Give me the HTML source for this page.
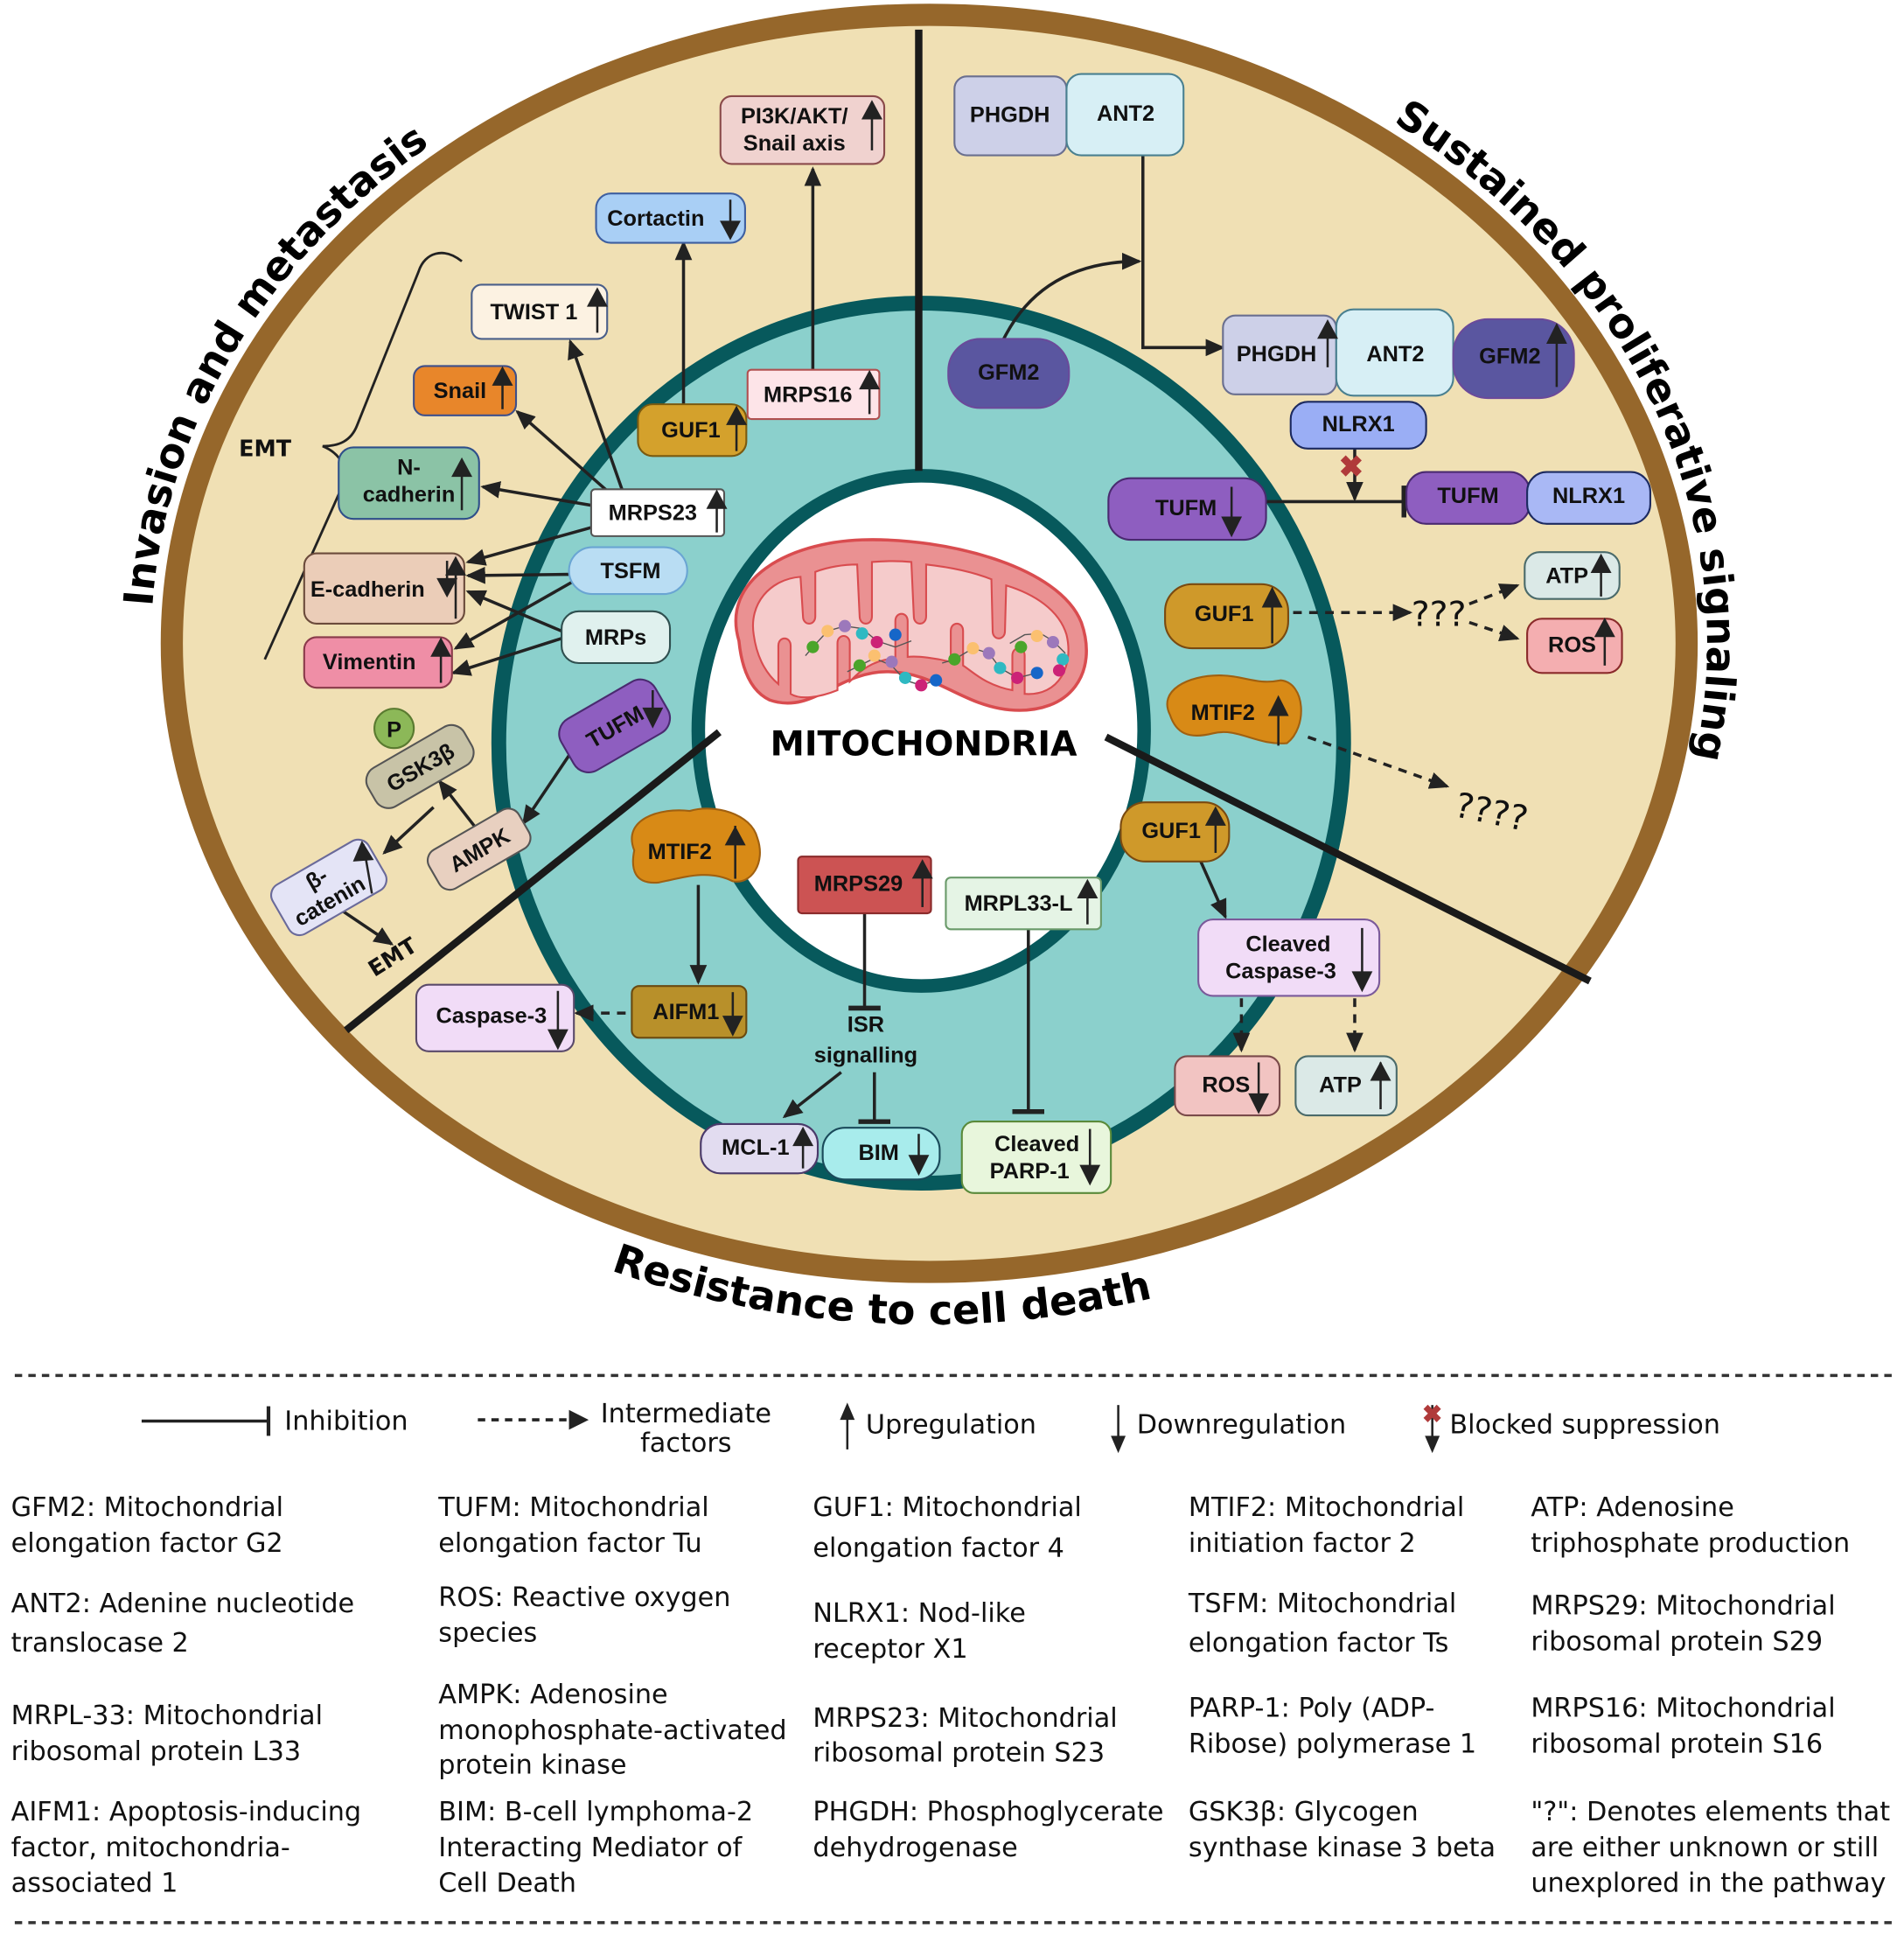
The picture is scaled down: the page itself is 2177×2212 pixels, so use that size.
<!DOCTYPE html>
<html><head><meta charset="utf-8"><style>
html,body{margin:0;padding:0;background:#fff}
svg{display:block}
text{font-family:"Liberation Sans",Arial,sans-serif}
.n{font-weight:bold;font-size:18px;fill:#111}
.lg{font-family:"DejaVu Sans","Liberation Sans",sans-serif;font-size:21.5px;fill:#111}
.tt{font-family:"DejaVu Sans","Liberation Sans",sans-serif;font-weight:bold;font-size:33px;fill:#000}
</style></head><body>
<svg width="2177" height="2212" viewBox="0 0 1546 1570" preserveAspectRatio="none" xmlns="http://www.w3.org/2000/svg">
<defs>
<marker id="ah" markerUnits="userSpaceOnUse" markerWidth="16" markerHeight="14" refX="14" refY="7" orient="auto"><path d="M0,0 L16,7 L0,14 z" fill="#222"/></marker>
<marker id="bar" markerUnits="userSpaceOnUse" markerWidth="4" markerHeight="26" refX="2" refY="13" orient="auto"><rect x="0" y="0" width="4" height="26" fill="#222"/></marker>
<path id="pl" d="M 207,785 A 632 527 0 0 1 754,-5" fill="none"/>
<path id="pr" d="M 864,3 A 632 527 0 0 1 1238,861" fill="none"/>
<path id="pb" d="M 182,798 A 660 552 0 0 0 1326,798" fill="none"/>
</defs>

<ellipse cx="754.5" cy="522" rx="615" ry="510" fill="#f0e0b4" stroke="#96672b" stroke-width="18"/>
<text class="tt"><textPath href="#pl" startOffset="45%" text-anchor="middle">Invasion and metastasis</textPath></text>
<text class="tt"><textPath href="#pr" startOffset="50%" text-anchor="middle">Sustained proliferative signaling</textPath></text>
<text class="tt"><textPath href="#pb" startOffset="47%" text-anchor="middle">Resistance to cell death</textPath></text>

<ellipse cx="748" cy="603" rx="343" ry="357" fill="#8bd0cc" stroke="#07595c" stroke-width="12"/>
<ellipse cx="748" cy="593" rx="181" ry="207" fill="#fff" stroke="#07595c" stroke-width="11"/>

<line x1="746" y1="24" x2="746" y2="382" stroke="#1a1a1a" stroke-width="6"/>
<line x1="281" y1="836" x2="584" y2="594" stroke="#1a1a1a" stroke-width="6"/>
<line x1="898" y1="598" x2="1291" y2="796" stroke="#1a1a1a" stroke-width="6"/>

<path d="M 600,520 C 585,470 640,440 700,438 C 770,436 860,460 878,505 C 892,545 870,580 820,576 C 780,572 760,545 720,545 C 680,545 660,580 625,568 C 608,560 602,540 600,520 Z" fill="#ea9192" stroke="#d94c4f" stroke-width="2.5"/>
<path d="M 612,515 C 608,490 625,470 650,468 L 652,500 C 652,508 662,508 662,500 L 662,464 C 672,460 685,458 696,458 L 698,500 C 698,508 708,508 708,500 L 708,456 C 720,455 730,455 740,456 L 742,500 C 742,508 752,508 752,500 L 752,458 C 770,460 790,464 805,470 L 806,512 C 806,520 816,520 816,512 L 817,475 C 840,482 860,495 866,515 C 872,540 860,565 832,563 L 832,532 C 832,524 822,524 822,532 L 822,560 C 800,556 790,545 782,540 L 782,512 C 782,504 772,504 772,512 L 772,537 C 760,534 745,532 737,533 L 737,504 C 737,496 727,496 727,504 L 727,534 C 705,536 695,548 690,553 L 690,522 C 690,514 680,514 680,522 L 680,560 C 665,566 650,568 642,563 L 642,524 C 642,516 632,516 632,524 L 632,555 C 620,545 614,530 612,515 Z" fill="#f5cbcb" stroke="#d94c4f" stroke-width="1.5"/>
<g stroke="#555" stroke-width="1" fill="none">
<polyline points="654,532 660,525 672,512 686,508 700,510 712,520 727,525 740,520"/>
<polyline points="688,545 698,540 710,534 724,540 735,552 748,556 760,552"/>
<polyline points="765,538 775,535 790,526 803,530 812,542 826,550 842,546"/>
<polyline points="820,522 832,515 845,514 855,520 865,530"/>
</g>
<g>
<circle cx="660" cy="525" r="5" fill="#4aa52a"/><circle cx="672" cy="512" r="5" fill="#fbc070"/><circle cx="686" cy="508" r="5" fill="#9c78bb"/><circle cx="700" cy="514" r="5" fill="#2fb9c2"/><circle cx="712" cy="521" r="5" fill="#cc2277"/><circle cx="727" cy="515" r="5" fill="#1666c8"/>
<circle cx="698" cy="540" r="5" fill="#4aa52a"/><circle cx="710" cy="532" r="5" fill="#fbc070"/><circle cx="724" cy="537" r="5" fill="#9c78bb"/><circle cx="735" cy="550" r="5" fill="#2fb9c2"/><circle cx="748" cy="556" r="5" fill="#cc2277"/><circle cx="760" cy="552" r="5" fill="#1666c8"/>
<circle cx="775" cy="535" r="5" fill="#4aa52a"/><circle cx="790" cy="526" r="5" fill="#fbc070"/><circle cx="803" cy="530" r="5" fill="#9c78bb"/><circle cx="812" cy="542" r="5" fill="#2fb9c2"/><circle cx="826" cy="550" r="5" fill="#cc2277"/><circle cx="842" cy="546" r="5" fill="#1666c8"/>
<circle cx="829" cy="525" r="5" fill="#4aa52a"/><circle cx="842" cy="516" r="5" fill="#fbc070"/><circle cx="855" cy="521" r="5" fill="#9c78bb"/><circle cx="863" cy="535" r="5" fill="#2fb9c2"/><circle cx="860" cy="544" r="5" fill="#cc2277"/>
</g>
<text x="750" y="613" font-weight="bold" font-size="28" text-anchor="middle" fill="#000" style="font-family:'DejaVu Sans',sans-serif">MITOCHONDRIA</text>

<g stroke="#222" stroke-width="2.5" fill="none">
<line x1="555" y1="328" x2="555" y2="197" marker-end="url(#ah)"/>
<line x1="660" y1="300" x2="660" y2="137" marker-end="url(#ah)"/>
<line x1="505" y1="397" x2="463" y2="277" marker-end="url(#ah)"/>
<line x1="495" y1="400" x2="420" y2="334" marker-end="url(#ah)"/>
<line x1="480" y1="410" x2="392" y2="395" marker-end="url(#ah)"/>
<line x1="480" y1="428" x2="380" y2="456" marker-end="url(#ah)"/>
<line x1="462" y1="466" x2="380" y2="467" marker-end="url(#ah)"/>
<line x1="465" y1="472" x2="370" y2="526" marker-end="url(#ah)"/>
<line x1="456" y1="512" x2="380" y2="480" marker-end="url(#ah)"/>
<line x1="456" y1="518" x2="368" y2="546" marker-end="url(#ah)"/>
<path d="M 815,275 C 835,235 870,212 925,212" marker-end="url(#ah)"/>
<polyline points="928,126 928,282 993,282" marker-end="url(#ah)"/>
<line x1="1100" y1="364" x2="1100" y2="405" marker-end="url(#ah)"/>
<line x1="1028" y1="407" x2="1140" y2="407" marker-end="url(#bar)"/>
<line x1="975" y1="699" x2="995" y2="744" marker-end="url(#ah)"/>
<line x1="835" y1="754" x2="835" y2="902" marker-end="url(#bar)"/>
<line x1="702" y1="741" x2="702" y2="818" marker-end="url(#bar)"/>
<line x1="683" y1="870" x2="637" y2="906" marker-end="url(#ah)"/>
<line x1="710" y1="870" x2="710" y2="910" marker-end="url(#bar)"/>
<line x1="567" y1="718" x2="567" y2="797" marker-end="url(#ah)"/>
<line x1="462" y1="613" x2="425" y2="668" marker-end="url(#ah)"/>
<line x1="385" y1="670" x2="357" y2="634" marker-end="url(#ah)"/>
<line x1="352" y1="655" x2="312" y2="692" marker-end="url(#ah)"/>
<line x1="272" y1="735" x2="318" y2="766" marker-end="url(#ah)"/>
<path d="M 375,212 C 360,200 345,205 340,220 L 290,345 C 285,358 275,362 262,362 C 272,366 282,375 280,390 L 215,535" stroke-width="2"/>
</g>
<g stroke="#222" stroke-width="2.5" fill="none" stroke-dasharray="7,6">
<line x1="1050" y1="497" x2="1145" y2="497" marker-end="url(#ah)"/>
<line x1="1193" y1="490" x2="1232" y2="475" marker-end="url(#ah)"/>
<line x1="1193" y1="505" x2="1232" y2="518" marker-end="url(#ah)"/>
<line x1="1062" y1="598" x2="1175" y2="638" marker-end="url(#ah)"/>
<line x1="1008" y1="810" x2="1008" y2="852" marker-end="url(#ah)"/>
<line x1="1100" y1="810" x2="1100" y2="852" marker-end="url(#ah)"/>
<line x1="508" y1="822" x2="468" y2="822" marker-end="url(#ah)"/>
</g>
<text x="1097" y="387" font-size="24" fill="#b03a3a" font-weight="bold" text-anchor="middle">✖</text>
<text x="1146" y="508" font-size="28" fill="#111" style="font-family:'DejaVu Sans',sans-serif">???</text>
<text x="1180" y="662" font-size="28" fill="#111" transform="rotate(12 1180 662)" style="font-family:'DejaVu Sans',sans-serif">????</text>
<text x="194" y="370" class="n" font-size="17" style="font-family:'DejaVu Sans',sans-serif">EMT</text>
<text x="304" y="793" class="n" font-size="17" transform="rotate(-32 304 793)" style="font-family:'DejaVu Sans',sans-serif">EMT</text>
<text x="703" y="837" class="n" text-anchor="middle">ISR</text>
<text x="703" y="862" class="n" text-anchor="middle">signalling</text>

<g stroke-width="1.5">
<rect x="585" y="78" width="133" height="55" rx="9" fill="#f0d2cf" stroke="#8a4a4a"/>
<rect x="484" y="157" width="121" height="40" rx="12" fill="#a9cff5" stroke="#3e5fa0"/>
<rect x="383" y="231" width="110" height="44" rx="8" fill="#fcf2e2" stroke="#4a5f8a"/>
<rect x="336" y="297" width="83" height="40" rx="9" fill="#e8862a" stroke="#3e4f8a"/>
<rect x="275" y="363" width="114" height="58" rx="12" fill="#8bc3a6" stroke="#2f4f8a"/>
<rect x="247" y="449" width="130" height="57" rx="10" fill="#ebcdb8" stroke="#6b4b3b"/>
<rect x="247" y="517" width="120" height="41" rx="10" fill="#ef8ea6" stroke="#8a3a4a"/>
<rect x="480" y="397" width="108" height="38" rx="3" fill="#fff" stroke="#555"/>
<rect x="462" y="444" width="96" height="38" rx="19" fill="#b9ddf3" stroke="#6aa5d3"/>
<rect x="456" y="496" width="88" height="42" rx="14" fill="#e0f1ee" stroke="#2f4f4f"/>
<rect x="518" y="328" width="88" height="42" rx="12" fill="#d4a12c" stroke="#7a5a10"/>
<rect x="607" y="300" width="107" height="40" rx="3" fill="#fde4e8" stroke="#b05050"/>
<rect x="770" y="275" width="98" height="56" rx="26" fill="#5a56a0" stroke="#6a4a9a"/>
<rect x="775" y="62" width="91" height="64" rx="10" fill="#cdd0e8" stroke="#6a6f8f"/>
<rect x="866" y="60" width="95" height="66" rx="12" fill="#d7eff5" stroke="#4a8090"/>
<rect x="993" y="256" width="92" height="64" rx="10" fill="#cdd0e8" stroke="#6a6f8f"/>
<rect x="1085" y="251" width="95" height="70" rx="14" fill="#d7eff5" stroke="#4a8090"/>
<rect x="1180" y="259" width="98" height="64" rx="28" fill="#5a56a0" stroke="#6a4a9a"/>
<rect x="1048" y="326" width="110" height="38" rx="14" fill="#9aaef5" stroke="#1c2a60"/>
<rect x="900" y="388" width="128" height="50" rx="18" fill="#8e5ec0" stroke="#4a2a70"/>
<rect x="1142" y="383" width="100" height="42" rx="16" fill="#8e5ec0" stroke="#4a2a70"/>
<rect x="1240" y="383" width="100" height="42" rx="16" fill="#a9b8f5" stroke="#1c2a60"/>
<rect x="946" y="474" width="100" height="52" rx="22" fill="#cf992a" stroke="#7a4a10"/>
<rect x="1238" y="448" width="77" height="38" rx="12" fill="#dbe9e7" stroke="#4a6a6a"/>
<rect x="1240" y="502" width="77" height="44" rx="12" fill="#f4aeb0" stroke="#8a2a2a"/>
<path d="M 950,580 C 940,560 965,548 990,548 C 1010,548 1020,556 1040,552 C 1060,554 1062,590 1045,603 C 1020,605 1005,590 985,595 C 965,600 955,595 950,580 Z" fill="#d88a16" stroke="#a06010"/>
<rect x="910" y="651" width="88" height="48" rx="20" fill="#cf992a" stroke="#7a4a10"/>
<rect x="973" y="746" width="147" height="62" rx="12" fill="#f1dcf7" stroke="#7a5a9a"/>
<rect x="954" y="857" width="85" height="48" rx="10" fill="#f2c4c2" stroke="#7a4a4a"/>
<rect x="1052" y="857" width="82" height="48" rx="10" fill="#dbe9e7" stroke="#4a6a6a"/>
<rect x="768" y="712" width="126" height="42" rx="4" fill="#e5f4e5" stroke="#6a9a6a"/>
<rect x="648" y="695" width="108" height="46" rx="3" fill="#cc5353" stroke="#8a2a2a"/>
<path d="M 515,690 C 505,665 535,655 560,658 C 580,652 610,660 615,680 C 622,700 610,718 595,715 C 575,705 555,712 535,716 C 515,718 512,705 515,690 Z" fill="#d88a16" stroke="#a06010"/>
<rect x="513" y="800" width="93" height="42" rx="6" fill="#b8902a" stroke="#6a4a10"/>
<rect x="338" y="799" width="128" height="54" rx="10" fill="#f1dcf7" stroke="#5a4a6a"/>
<rect x="569" y="912" width="95" height="40" rx="16" fill="#e2dcf0" stroke="#4a3a6a"/>
<rect x="668" y="915" width="95" height="42" rx="18" fill="#a8ecec" stroke="#1a4a5a"/>
<rect x="781" y="910" width="121" height="58" rx="10" fill="#e8f6dc" stroke="#5a8a3a"/>
<g transform="rotate(-30 499 589)"><rect x="455" y="565" width="88" height="48" rx="14" fill="#8e5ec0" stroke="#4a2a70"/></g>
<g transform="rotate(-30 341 622)"><rect x="296" y="604" width="90" height="36" rx="12" fill="#c8c3a7" stroke="#555"/></g>
<circle cx="320" cy="591" r="16" fill="#8cb858" stroke="#5a7a30"/>
<g transform="rotate(-30 389 689)"><rect x="347" y="671" width="84" height="36" rx="10" fill="#e8d0c0" stroke="#555"/></g>
<g transform="rotate(-30 267 720)"><rect x="222" y="697" width="90" height="46" rx="10" fill="#e4e4f6" stroke="#6a6a9a"/></g>
</g>

<g class="n">
<text x="645" y="100" class="n" text-anchor="middle">PI3K/AKT/</text>
<text x="645" y="122" class="n" text-anchor="middle">Snail axis</text>
<text x="493" y="183" class="n">Cortactin</text>
<text x="398" y="259" class="n">TWIST 1</text>
<text x="352" y="323" class="n">Snail</text>
<text x="332" y="385" class="n" text-anchor="middle">N-</text>
<text x="332" y="407" class="n" text-anchor="middle">cadherin</text>
<text x="252" y="484" class="n">E-cadherin</text>
<text x="262" y="543" class="n">Vimentin</text>
<text x="494" y="422" class="n">MRPS23</text>
<text x="512" y="469" class="n" text-anchor="middle">TSFM</text>
<text x="500" y="523" class="n" text-anchor="middle">MRPs</text>
<text x="537" y="355" class="n">GUF1</text>
<text x="620" y="326" class="n">MRPS16</text>
<text x="819" y="308" class="n" text-anchor="middle">GFM2</text>
<text x="820" y="99" class="n" text-anchor="middle">PHGDH</text>
<text x="914" y="98" class="n" text-anchor="middle">ANT2</text>
<text x="1004" y="293" class="n">PHGDH</text>
<text x="1133" y="293" class="n" text-anchor="middle">ANT2</text>
<text x="1201" y="295" class="n">GFM2</text>
<text x="1103" y="350" class="n" text-anchor="middle">NLRX1</text>
<text x="938" y="418" class="n">TUFM</text>
<text x="1192" y="408" class="n" text-anchor="middle">TUFM</text>
<text x="1290" y="408" class="n" text-anchor="middle">NLRX1</text>
<text x="970" y="504" class="n">GUF1</text>
<text x="1255" y="473" class="n">ATP</text>
<text x="1257" y="529" class="n">ROS</text>
<text x="967" y="584" class="n">MTIF2</text>
<text x="927" y="680" class="n">GUF1</text>
<text x="1046" y="772" class="n" text-anchor="middle">Cleaved</text>
<text x="1040" y="794" class="n" text-anchor="middle">Caspase-3</text>
<text x="976" y="886" class="n">ROS</text>
<text x="1071" y="886" class="n">ATP</text>
<text x="783" y="739" class="n">MRPL33-L</text>
<text x="661" y="723" class="n">MRPS29</text>
<text x="526" y="697" class="n">MTIF2</text>
<text x="530" y="827" class="n">AIFM1</text>
<text x="354" y="830" class="n">Caspase-3</text>
<text x="586" y="937" class="n">MCL-1</text>
<text x="697" y="941" class="n">BIM</text>
<text x="842" y="934" class="n" text-anchor="middle">Cleaved</text>
<text x="836" y="956" class="n" text-anchor="middle">PARP-1</text>
<text x="499" y="596" class="n" text-anchor="middle" transform="rotate(-30 499 589)">TUFM</text>
<text x="341" y="629" class="n" text-anchor="middle" transform="rotate(-30 341 622)">GSK3β</text>
<text x="320" y="598" class="n" text-anchor="middle">P</text>
<text x="389" y="696" class="n" text-anchor="middle" transform="rotate(-30 389 689)">AMPK</text>
<text x="262" y="715" class="n" text-anchor="middle" transform="rotate(-30 267 720)">β-</text>
<text x="262" y="736" class="n" text-anchor="middle" transform="rotate(-30 267 720)">catenin</text>
</g>

<g fill="#222" stroke="#222" stroke-width="1.8">
<line x1="708" y1="86" x2="708" y2="122"/><path d="M701,96 L708,83 L715,96z"/>
<line x1="593" y1="162" x2="593" y2="190"/><path d="M586,180 L593,193 L600,180z"/>
<line x1="485" y1="238" x2="485" y2="270"/><path d="M478,248 L485,235 L492,248z"/>
<line x1="408" y1="302" x2="408" y2="332"/><path d="M401,312 L408,299 L415,312z"/>
<line x1="375" y1="374" x2="375" y2="414"/><path d="M368,386 L375,373 L382,386z"/>
<line x1="363" y1="455" x2="363" y2="480"/><path d="M356,470 L363,483 L370,470z"/>
<line x1="370" y1="456" x2="370" y2="502"/><path d="M363,466 L370,453 L377,466z"/>
<line x1="358" y1="522" x2="358" y2="554"/><path d="M351,532 L358,519 L365,532z"/>
<line x1="582" y1="402" x2="582" y2="432"/><path d="M575,412 L582,399 L589,412z"/>
<line x1="598" y1="334" x2="598" y2="366"/><path d="M591,344 L598,331 L605,344z"/>
<line x1="706" y1="305" x2="706" y2="336"/><path d="M699,315 L706,302 L713,315z"/>
<line x1="1078" y1="262" x2="1078" y2="298"/><path d="M1071,274 L1078,261 L1085,274z"/>
<line x1="1264" y1="265" x2="1264" y2="314"/><path d="M1257,278 L1264,264 L1271,278z"/>
<line x1="1000" y1="395" x2="1000" y2="428"/><path d="M993,420 L1000,434 L1007,420z"/>
<line x1="1033" y1="480" x2="1033" y2="522"/><path d="M1026,492 L1033,478 L1040,492z"/>
<line x1="1300" y1="452" x2="1300" y2="484"/><path d="M1293,464 L1300,451 L1307,464z"/>
<line x1="1303" y1="504" x2="1303" y2="540"/><path d="M1296,516 L1303,503 L1310,516z"/>
<line x1="1038" y1="568" x2="1038" y2="605"/><path d="M1031,580 L1038,566 L1045,580z"/>
<line x1="987" y1="657" x2="987" y2="692"/><path d="M980,669 L987,656 L994,669z"/>
<line x1="1106" y1="753" x2="1106" y2="800"/><path d="M1099,789 L1106,803 L1113,789z"/>
<line x1="1022" y1="862" x2="1022" y2="900"/><path d="M1015,888 L1022,902 L1029,888z"/>
<line x1="1121" y1="862" x2="1121" y2="900"/><path d="M1114,876 L1121,863 L1128,876z"/>
<line x1="883" y1="716" x2="883" y2="750"/><path d="M876,728 L883,715 L890,728z"/>
<line x1="749" y1="700" x2="749" y2="736"/><path d="M742,712 L749,699 L756,712z"/>
<line x1="597" y1="670" x2="597" y2="713"/><path d="M590,685 L597,672 L604,685z"/>
<line x1="595" y1="805" x2="595" y2="836"/><path d="M588,825 L595,839 L602,825z"/>
<line x1="453" y1="804" x2="453" y2="846"/><path d="M446,836 L453,850 L460,836z"/>
<line x1="652" y1="916" x2="652" y2="948"/><path d="M645,929 L652,916 L659,929z"/>
<line x1="746" y1="920" x2="746" y2="948"/><path d="M739,938 L746,952 L753,938z"/>
<line x1="885" y1="916" x2="885" y2="958"/><path d="M878,946 L885,960 L892,946z"/>
<line x1="530" y1="560" x2="530" y2="585"/><path d="M523,575 L530,589 L537,575z"/>
<line x1="295" y1="685" x2="302" y2="725"/><path d="M288,698 L294,684 L302,697z"/>
</g>

<line x1="12" y1="1116" x2="1540" y2="1116" stroke="#333" stroke-width="2.5" stroke-dasharray="6,5"/>
<line x1="12" y1="1560" x2="1540" y2="1560" stroke="#333" stroke-width="2.5" stroke-dasharray="6,5"/>
<line x1="115" y1="1153" x2="218" y2="1153" stroke="#222" stroke-width="2.5"/>
<line x1="218" y1="1141" x2="218" y2="1165" stroke="#222" stroke-width="3"/>
<text x="231" y="1160" class="lg">Inhibition</text>
<line x1="388" y1="1152" x2="464" y2="1152" stroke="#222" stroke-width="2.5" stroke-dasharray="6,5"/>
<path d="M462,1144 L478,1152 L462,1160z" fill="#222"/>
<text x="557" y="1154" class="lg" text-anchor="middle">Intermediate</text>
<text x="557" y="1178" class="lg" text-anchor="middle">factors</text>
<line x1="688" y1="1148" x2="688" y2="1176" stroke="#222" stroke-width="1.8"/><path d="M682,1152 L688,1138 L694,1152z" fill="#222"/>
<text x="703" y="1163" class="lg">Upregulation</text>
<line x1="908" y1="1140" x2="908" y2="1168" stroke="#222" stroke-width="1.8"/><path d="M902,1165 L908,1179 L914,1165z" fill="#222"/>
<text x="923" y="1163" class="lg">Downregulation</text>
<line x1="1163" y1="1140" x2="1163" y2="1168" stroke="#222" stroke-width="1.8"/><path d="M1157,1165 L1163,1179 L1169,1165z" fill="#222"/>
<text x="1163" y="1154" font-size="20" fill="#b03a3a" font-weight="bold" text-anchor="middle">✖</text>
<text x="1177" y="1163" class="lg">Blocked suppression</text>

<g class="lg">
<text x="9" y="1230" class="lg">GFM2: Mitochondrial</text>
<text x="9" y="1259" class="lg">elongation factor G2</text>
<text x="9" y="1308" class="lg">ANT2: Adenine nucleotide</text>
<text x="9" y="1340" class="lg">translocase 2</text>
<text x="9" y="1399" class="lg">MRPL-33: Mitochondrial</text>
<text x="9" y="1428" class="lg">ribosomal protein L33</text>
<text x="9" y="1477" class="lg">AIFM1: Apoptosis-inducing</text>
<text x="9" y="1506" class="lg">factor, mitochondria-</text>
<text x="9" y="1535" class="lg">associated 1</text>

<text x="356" y="1230" class="lg">TUFM: Mitochondrial</text>
<text x="356" y="1259" class="lg">elongation factor Tu</text>
<text x="356" y="1303" class="lg">ROS: Reactive oxygen</text>
<text x="356" y="1332" class="lg">species</text>
<text x="356" y="1382" class="lg">AMPK: Adenosine</text>
<text x="356" y="1411" class="lg">monophosphate-activated</text>
<text x="356" y="1439" class="lg">protein kinase</text>
<text x="356" y="1477" class="lg">BIM: B-cell lymphoma-2</text>
<text x="356" y="1506" class="lg">Interacting Mediator of</text>
<text x="356" y="1535" class="lg">Cell Death</text>

<text x="660" y="1230" class="lg">GUF1: Mitochondrial</text>
<text x="660" y="1263" class="lg">elongation factor 4</text>
<text x="660" y="1316" class="lg">NLRX1: Nod-like</text>
<text x="660" y="1345" class="lg">receptor X1</text>
<text x="660" y="1401" class="lg">MRPS23: Mitochondrial</text>
<text x="660" y="1429" class="lg">ribosomal protein S23</text>
<text x="660" y="1477" class="lg">PHGDH: Phosphoglycerate</text>
<text x="660" y="1506" class="lg">dehydrogenase</text>

<text x="965" y="1230" class="lg">MTIF2: Mitochondrial</text>
<text x="965" y="1259" class="lg">initiation factor 2</text>
<text x="965" y="1308" class="lg">TSFM: Mitochondrial</text>
<text x="965" y="1340" class="lg">elongation factor Ts</text>
<text x="965" y="1393" class="lg">PARP-1: Poly (ADP-</text>
<text x="965" y="1422" class="lg">Ribose) polymerase 1</text>
<text x="965" y="1477" class="lg">GSK3β: Glycogen</text>
<text x="965" y="1506" class="lg">synthase kinase 3 beta</text>

<text x="1243" y="1230" class="lg">ATP: Adenosine</text>
<text x="1243" y="1259" class="lg">triphosphate  production</text>
<text x="1243" y="1310" class="lg">MRPS29: Mitochondrial</text>
<text x="1243" y="1339" class="lg">ribosomal protein S29</text>
<text x="1243" y="1393" class="lg">MRPS16: Mitochondrial</text>
<text x="1243" y="1422" class="lg">ribosomal protein S16</text>
<text x="1243" y="1477" class="lg">"?": Denotes elements that</text>
<text x="1243" y="1506" class="lg">are either unknown or still</text>
<text x="1243" y="1535" class="lg">unexplored in the pathway</text>
</g>
</svg>
</body></html>
